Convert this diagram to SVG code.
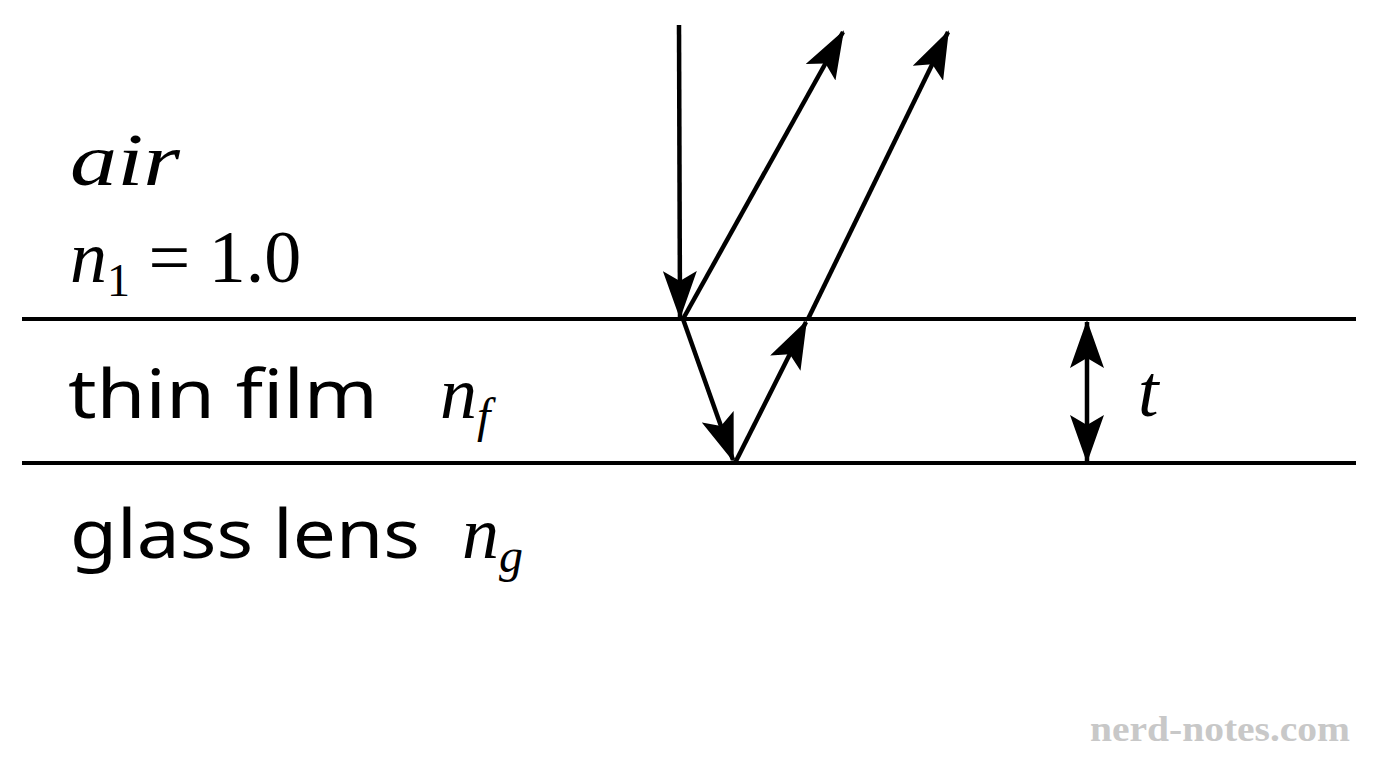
<svg xmlns="http://www.w3.org/2000/svg" width="1376" height="768" viewBox="0 0 1376 768">
<style>
.ln{stroke:#000;stroke-width:4;fill:none}
.ray{stroke:#000;stroke-width:4.5;fill:none;marker-end:url(#ah)}
.m{font-family:"Liberation Serif",serif;font-style:italic;font-size:74px;fill:#000}
.t{font-family:"Noto Sans","Liberation Sans",sans-serif;font-size:68px;fill:#000}
</style>
<defs>
<marker id="ah" markerUnits="userSpaceOnUse" markerWidth="50" markerHeight="34" viewBox="0 0 50 34" refX="46" refY="17" orient="auto-start-reverse">
<path d="M0,0 L48,17 L0,34 L10,17 Z" fill="#000"/>
</marker>
</defs>
<rect width="1376" height="768" fill="#fff"/>
<g id="interfaces">
<line class="ln" x1="22" y1="319" x2="1356" y2="319"/>
<line class="ln" x1="22" y1="463" x2="1356" y2="463"/>
</g>
<g id="connectors">
<line class="ray" x1="679" y1="25" x2="680" y2="317"/>
<line class="ray" x1="683" y1="319" x2="843" y2="32"/>
<line class="ray" x1="683" y1="319" x2="733" y2="460"/>
<line class="ray" x1="735" y1="463" x2="806" y2="322"/>
<line class="ray" x1="808" y1="319" x2="948" y2="32"/>
<line class="ray" x1="1087" y1="322" x2="1087" y2="461" style="marker-start:url(#ah)"/>
</g>
<g id="labels">
<text class="m" x="70" y="185" textLength="110" lengthAdjust="spacingAndGlyphs">air</text>
<text class="m" x="70" y="282">n<tspan font-style="normal" font-size="46" dy="14">1</tspan><tspan font-style="normal" dy="-14"> = 1.0</tspan></text>
<text class="t" x="68" y="418" textLength="310" lengthAdjust="spacingAndGlyphs">thin film</text>
<text class="m" x="440" y="418">n<tspan font-size="48" dy="14">f</tspan></text>
<text class="t" x="70" y="558" textLength="350" lengthAdjust="spacingAndGlyphs">glass lens</text>
<text class="m" x="462" y="558">n<tspan font-size="48" dy="14">g</tspan></text>
<text class="m" x="1138" y="416">t</text>
<text x="1090" y="741" font-family="Liberation Serif,serif" font-weight="bold" font-size="36" fill="#c8c8c8" textLength="260" lengthAdjust="spacingAndGlyphs">nerd-notes.com</text>
</g>
</svg>
